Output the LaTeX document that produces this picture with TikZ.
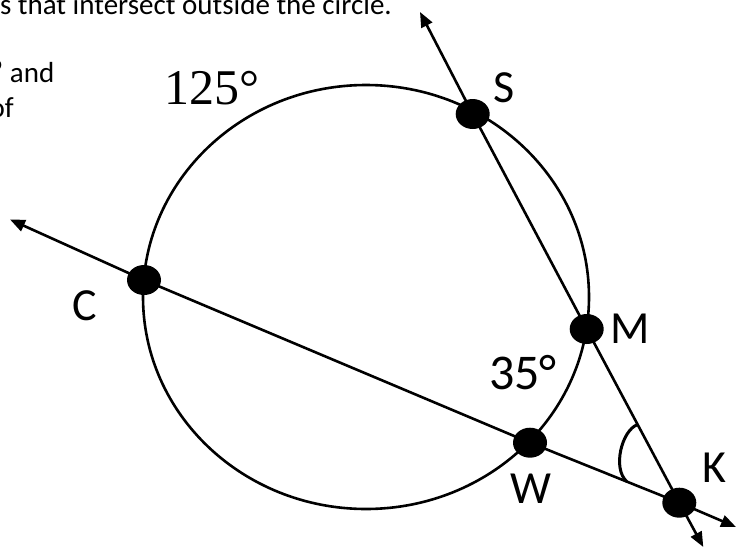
\documentclass[tikz,border=0pt]{standalone}
\usepackage{fontspec}
\setmainfont{Carlito}
\newfontfamily\serifnum{Liberation Serif}
\usetikzlibrary{arrows.meta,shapes.geometric,calc}
\begin{document}
\begin{tikzpicture}[x=1pt,y=-1pt,
  thick line/.style={line width=2.6pt},
  arr/.style={line width=2.6pt,-{Triangle[length=15pt,width=12pt]}},
  dot/.style={ellipse,fill=black,draw=none,inner sep=0pt,minimum width=34pt,minimum height=30pt},
  lbl/.style={font=\fontsize{46}{50}\selectfont,inner sep=0pt},
  ang/.style={font=\fontsize{50}{54}\selectfont,inner sep=0pt},
  txt/.style={font=\fontsize{29}{35}\selectfont,inner sep=0pt}
]
\useasboundingbox (0,0) rectangle (736,552);
% circle
\node[ellipse,draw,line width=2.6pt,inner sep=0pt,minimum width=446pt,minimum height=424pt] (circ) at (366,297) {};
% points
\node[dot] (C) at (144,280) {};
\node[dot] (S) at (472.7,114) {};
\node[dot] (M) at (586.7,329) {};
\node[dot] (W) at (530,442.7) {};
\node[dot] (K) at (679.3,502.7) {};
\coordinate (CL) at (10,219.5);
\coordinate (KR) at (736,527);
\coordinate (ST) at (420,12);
\coordinate (KB) at (703.3,547);
% secant C-W-K
\draw[arr] (C.center) -- (CL);
\draw[thick line] (C.center) -- (W.center) -- (K.center);
\draw[arr] (K.center) -- (KR);
% secant S-M-K
\draw[arr] (S.center) -- (ST);
\draw[thick line] (S.center) -- (M.center) -- (K.center);
\draw[arr] (K.center) -- (KB);
% angle mark at K
\coordinate (a1) at ($(K.center)!0.45!(M.center)$);
\coordinate (a2) at ($(K.center)!0.352!(W.center)$);
\draw[line width=3pt] (a1) .. controls (622,430) and (612,468) .. (a2);
% labels
\node[lbl] (Sl) at (504,88) {S};
\node[lbl] (Ml) at (630,329) {M};
\node[lbl] (Kl) at (714,468) {K};
\node[lbl] (Wl) at (531,489) {W};
\node[lbl] (Cl) at (85,306) {C};
\node[ang] (a35) at (523,373) {35°};
\node[ang,font=\serifnum\fontsize{50}{54}\selectfont] (a125) at (212,88) {125°};
% fragments of text
\node[txt,anchor=base east] (t1) at (392,14.3) {s that intersect outside the circle.};
\node[txt,anchor=base east] (t2) at (54.5,82) {’ and};
\node[txt,anchor=base east] (t3) at (14,117) {of};
\end{tikzpicture}
\end{document}
